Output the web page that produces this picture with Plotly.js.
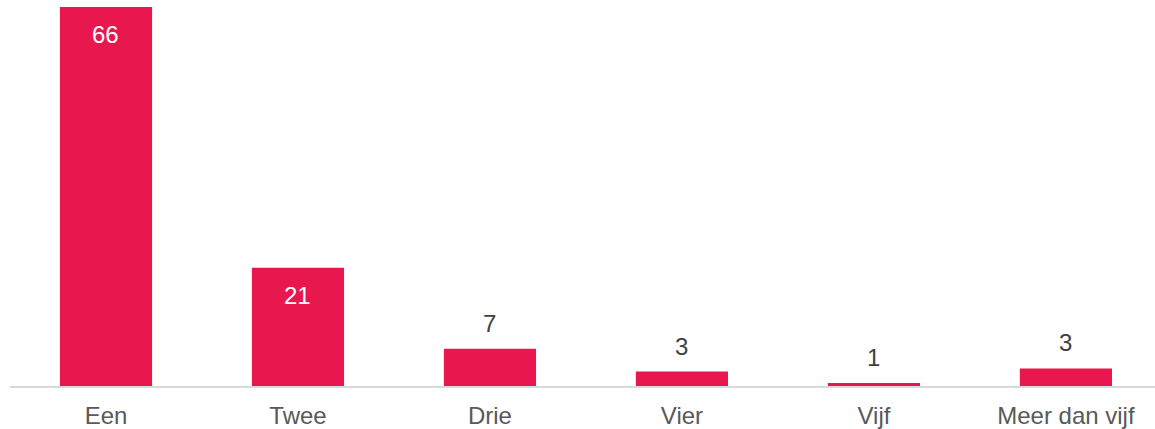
<!DOCTYPE html>
<html>
<head>
<meta charset="utf-8">
<script src="https://cdn.plot.ly/plotly-3.0.1.min.js"></script>
<style>html,body{margin:0;padding:0;background:#fff;}#chart{width:1155px;height:429px;}</style>
</head>
<body>
<div id="chart"></div>
<script>
const categories = ["Een", "Twee", "Drie", "Vier", "Vijf", "Meer dan vijf"];
const values = [66.4, 20.7, 6.52, 2.52, 0.52, 3.07];
const labels = ["66", "21", "7", "3", "1", "3"];
const insideLabel = [true, true, false, false, false, false];

const barColor = "#E8184F";
const fontFamily = "'Liberation Sans', Arial, sans-serif";

const trace = {
  type: "bar",
  x: categories,
  y: values,
  width: 0.48,
  marker: {color: barColor},
  hoverinfo: "none"
};

const annotations = categories.map((c, i) => ({
  x: c,
  y: values[i],
  xref: "x",
  yref: "y",
  text: labels[i],
  showarrow: false,
  yanchor: insideLabel[i] ? "top" : "bottom",
  yshift: insideLabel[i] ? -12 : 10,
  font: {family: fontFamily, size: 24, color: insideLabel[i] ? "#FFFFFF" : "#404040"}
}));

const layout = {
  width: 1155,
  height: 429,
  margin: {l: 10, r: 0, t: 7, b: 43, pad: 0},
  paper_bgcolor: "#FFFFFF",
  plot_bgcolor: "#FFFFFF",
  showlegend: false,
  font: {family: fontFamily, size: 24, color: "#595959"},
  xaxis: {
    type: "category",
    range: [-0.5, 5.464],
    showline: true,
    linecolor: "#D9D9D9",
    linewidth: 1.5,
    ticks: "",
    showgrid: false,
    zeroline: false,
    ticklabelstandoff: 8,
    tickfont: {family: fontFamily, size: 24, color: "#595959"},
    fixedrange: true
  },
  yaxis: {
    range: [0, 66.4],
    visible: false,
    showgrid: false,
    zeroline: false,
    fixedrange: true
  },
  annotations: annotations
};

Plotly.newPlot("chart", [trace], layout, {displayModeBar: false, staticPlot: true});
</script>
</body>
</html>
